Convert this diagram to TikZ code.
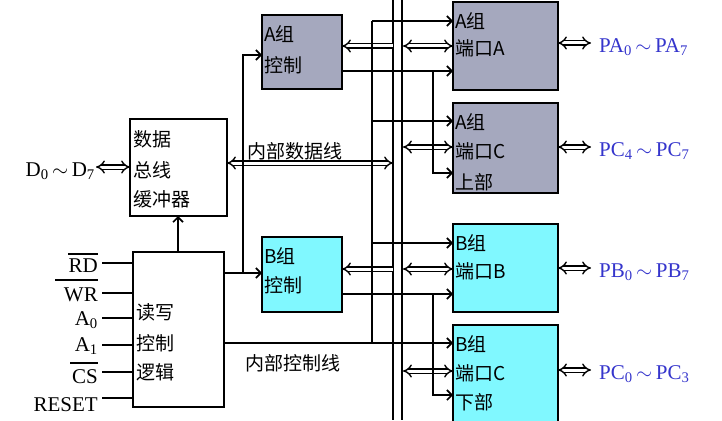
\documentclass[tikz,border=0pt]{standalone}
\usepackage{fontspec}
\setmainfont{Liberation Serif}
\newfontfamily\cjk{Noto Sans CJK SC}
\usetikzlibrary{arrows.meta}
\definecolor{grayblk}{HTML}{A5A8BE}
\definecolor{cyanblk}{HTML}{80F8FF}
\definecolor{pinblue}{HTML}{3535CC}
\tikzset{
  blk/.style={draw=black, line width=2pt, inner sep=0pt},
  txt/.style={font=\fontsize{19}{19}\selectfont\cjk, anchor=west, inner sep=0pt},
  lat/.style={font=\fontsize{21}{21}\selectfont, inner sep=0pt},
  pin/.style={lat, text=pinblue, anchor=west},
  sarr/.style={line width=1.6pt, -{Straight Barb[length=5pt,width=10pt,line width=1.6pt]}},
  line/.style={line width=1.6pt},
  dbl/.style={draw=black, line width=1.4pt, double=white, double distance=3pt},
  darr/.style={dbl, {Implies[length=8pt, width=15pt]}-{Implies[length=8pt, width=15pt]}},
  darrl/.style={dbl, {Implies[length=8pt, width=15pt]}-},
  ovl/.style={line width=1.2pt},
}
\begin{document}
\begin{tikzpicture}[x=1pt,y=-1pt]
\useasboundingbox (0,0) rectangle (722,420);
% boxes
\draw[blk, fill=white] (130,119) rectangle (227,216);
\node (buf) at (178.5,167.5) [minimum width=97pt, minimum height=97pt] {};
\draw[blk, fill=white] (133,252) rectangle (224,407);
\node (rw) at (178.5,329.5) [minimum width=91pt, minimum height=155pt] {};
\draw[blk, fill=grayblk] (262,15) rectangle (342,89);
\node (actl) at (302,52) [minimum width=80pt, minimum height=74pt] {};
\draw[blk, fill=cyanblk] (262,237) rectangle (342,312);
\node (bctl) at (302,274.5) [minimum width=80pt, minimum height=75pt] {};
\draw[blk, fill=grayblk] (453,2) rectangle (558,90);
\node (pa) at (505.5,46) [minimum width=105pt, minimum height=88pt] {};
\draw[blk, fill=grayblk] (453,103) rectangle (558,193);
\node (pcu) at (505.5,148) [minimum width=105pt, minimum height=90pt] {};
\draw[blk, fill=cyanblk] (453,224) rectangle (558,312);
\node (pb) at (505.5,268) [minimum width=105pt, minimum height=88pt] {};
\draw[blk, fill=cyanblk] (453,325) rectangle (558,430);
\node (pcl) at (505.5,377.5) [minimum width=105pt, minimum height=105pt] {};

% box texts
\node[txt] (t1) at (133,139) {数据};
\node[txt] (t2) at (133,170) {总线};
\node[txt] (t3) at (133,199) {缓冲器};
\node[txt] (t4) at (136,312) {读写};
\node[txt] (t5) at (136,343) {控制};
\node[txt] (t6) at (136,372) {逻辑};
\node[txt] (t7) at (264,34) {A组};
\node[txt] (t8) at (264,65) {控制};
\node[txt] (t9) at (264,256) {B组};
\node[txt] (t10) at (264,285) {控制};
\node[txt] (t11) at (455,21) {A组};
\node[txt] (t12) at (455,48) {端口A};
\node[txt] (t13) at (455,122) {A组};
\node[txt] (t14) at (455,151) {端口C};
\node[txt] (t15) at (455,182) {上部};
\node[txt] (t16) at (455,243) {B组};
\node[txt] (t17) at (455,271) {端口B};
\node[txt] (t18) at (455,344) {B组};
\node[txt] (t19) at (455,373) {端口C};
\node[txt] (t20) at (455,402) {下部};

% bus
\coordinate (bt1) at (393,0); \coordinate (bb1) at (393,420);
\coordinate (bt2) at (402,0); \coordinate (bb2) at (402,420);
\draw[line] (bt1) -- (bb1);
\draw[line] (bt2) -- (bb2);

% internal data bus
\coordinate (db) at (393,163);
\draw[darr] (227,163) -- (db);
\node[txt, anchor=base west] (ldata) at (247,158) {内部数据线};

% control box double arrows (from bus)
\draw[darrl] (342,46) -- (393,46);
\draw[darrl] (342,269) -- (393,269);
% port double arrows
\draw[darr] (403,46) -- (453,46);
\draw[darr] (403,147) -- (453,147);
\draw[darr] (403,269) -- (453,269);
\draw[darr] (403,371) -- (453,371);

% read/write control lines
\coordinate (v1) at (243,273);
\coordinate (v1t) at (243,55);
\draw[sarr] (224,273) -- (262,273);
\draw[sarr] (v1) -- (v1t) -- (262,55);
\draw[sarr] (rw.east |- 0,343) -- (453,343);
\node[txt, anchor=base west] (lctl) at (245,370) {内部控制线};
\coordinate (c1) at (372,343);
\coordinate (c2) at (372,21);
\draw[line] (c1) -- (c2);
\draw[sarr] (c2) -- (453,21);
\draw[sarr] (372,121) -- (453,121);
\draw[sarr] (372,243) -- (453,243);

% group control outputs
\draw[sarr] (342,71) -- (453,71);
\draw[sarr] (433,71) -- (433,173) -- (453,173);
\draw[sarr] (342,294) -- (453,294);
\draw[sarr] (433,294) -- (433,395) -- (453,395);

% rw to buffer
\draw[sarr] (178,252) -- (178,216);

% data pins
\draw[darr] (96,167) -- (130,167);
\node[lat, anchor=east] (dlab) at (95,171) {D\textsubscript{0}\,$\sim$\,D\textsubscript{7}};

% input lines
\foreach \y in {263,293,318,345,372,398}{
  \draw[line] (102,\y) -- (133,\y);
}
\node[lat, anchor=east] (rd) at (98,266) {RD};
\draw[ovl] (rd.west |- 0,254) -- (rd.east |- 0,254);
\node[lat, anchor=east] (wr) at (98,295) {WR};
\draw[ovl] (55,280) -- (wr.east |- 0,280);
\node[lat, anchor=east] (a0) at (98,320) {A\textsubscript{0}};
\node[lat, anchor=east] (a1) at (98,346) {A\textsubscript{1}};
\node[lat, anchor=east] (cs) at (98,377) {CS};
\draw[ovl] (70,363) -- (cs.east |- 0,363);
\node[lat, anchor=east] (rst) at (98,405) {RESET};

% external ports
\draw[darr] (558,43) -- (591,43);
\draw[darr] (558,147) -- (591,147);
\draw[darr] (558,268) -- (591,268);
\draw[darr] (558,370) -- (591,370);
\node[pin] (pal) at (599,47) {PA\textsubscript{0}\,$\sim$\,PA\textsubscript{7}};
\node[pin] (pcul) at (599,151) {PC\textsubscript{4}\,$\sim$\,PC\textsubscript{7}};
\node[pin] (pbl) at (599,272) {PB\textsubscript{0}\,$\sim$\,PB\textsubscript{7}};
\node[pin] (pcll) at (599,374) {PC\textsubscript{0}\,$\sim$\,PC\textsubscript{3}};
\end{tikzpicture}
\end{document}
